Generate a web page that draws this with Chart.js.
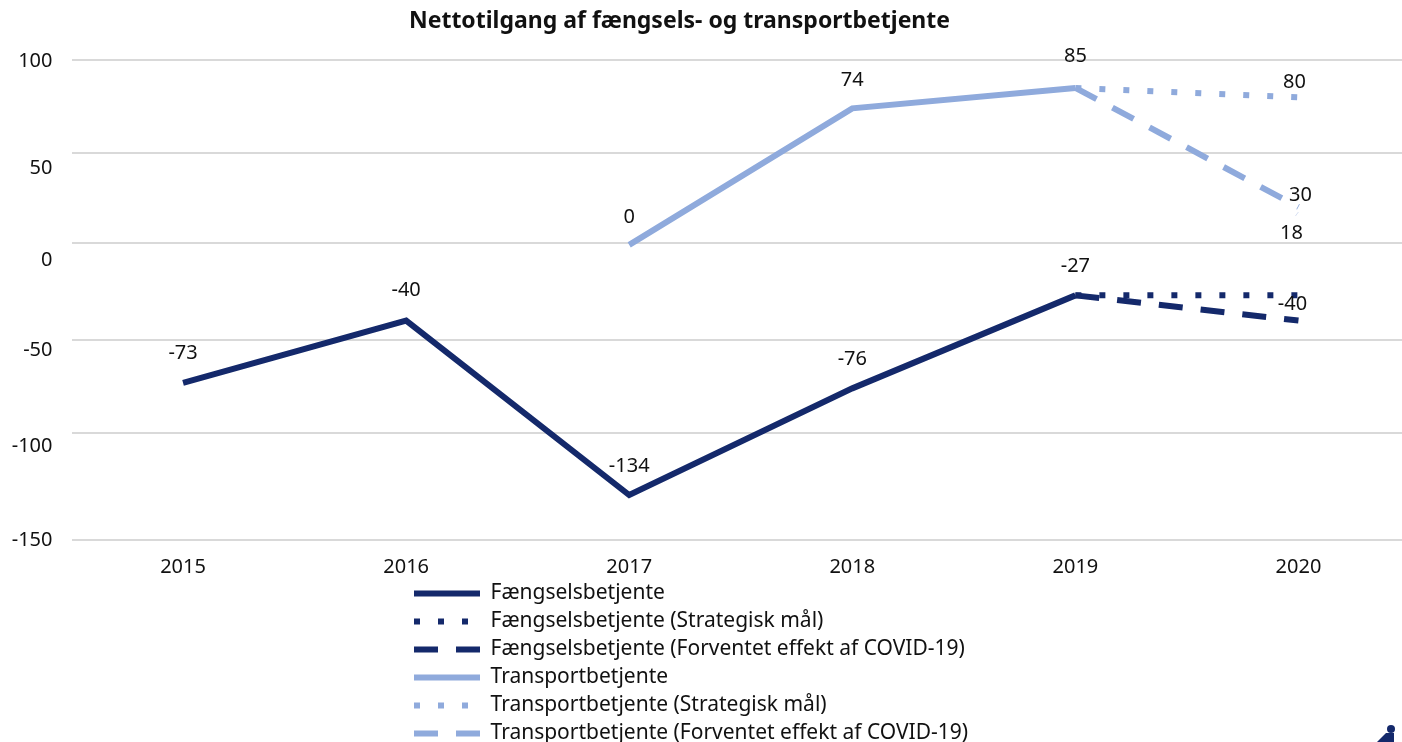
<!DOCTYPE html>
<html>
<head>
<meta charset="utf-8">
<title>Nettotilgang</title>
<script src="https://cdn.jsdelivr.net/npm/chart.js@4"></script>
<style>
  html, body { margin: 0; padding: 0; background: #fff; overflow: hidden; width: 1402px; height: 742px; }
  canvas { display: block; }
  #badge { position: absolute; left: 1374px; top: 724px; }
</style>
</head>
<body>
<canvas id="chart" width="1410" height="742"></canvas>
<svg id="badge" width="24" height="18"><circle cx="17" cy="5" r="4" fill="#14296b"/><path d="M3 18 L12 9 L20 9 L20 18 Z" fill="#14296b"/></svg>
<script>
const titleText = 'Nettotilgang af fængsels- og transportbetjente';
const years = ['2015', '2016', '2017', '2018', '2019', '2020'];

const fangsel = [-73, -40, -129, -76, -27, null];
const fangselMaal = [null, null, null, null, -27, -27];
const fangselCovid = [null, null, null, null, -27, -40];
const transport = [null, null, -1, 74, 85, null];
const transportMaal = [null, null, null, null, 85, 80];
const transportCovid = [null, null, null, null, 85, 20];

const fangselLabels = ['-73', '-40', '-134', '-76', '-27', null];
const fangselCovidLabels = [null, null, null, null, null, '-40'];
const transportLabels = [null, null, '0', '74', '85', null];
const transportMaalLabels = [null, null, null, null, null, '80'];
const transportCovidLabels = [null, null, null, null, null, '18'];
const transportExtraLabels = [null, null, null, null, null, '30'];

const seriesNames = [
    'Fængselsbetjente',
    'Fængselsbetjente (Strategisk mål)',
    'Fængselsbetjente (Forventet effekt af COVID-19)',
    'Transportbetjente',
    'Transportbetjente (Strategisk mål)',
    'Transportbetjente (Forventet effekt af COVID-19)'
];

const yTicks = [100, 50, 0, -50, -100, -150];
// where each gridline sits, as a share of the plot height (the original is uneven)
const yStops = [0, 0.1937, 0.3812, 0.5833, 0.7771, 1];
// tick labels do not sit on their gridlines in the original
const yLabelShift = { '100': 1, '50': 15, '0': 17, '-50': 10, '-100': 13, '-150': 0 };

const darkBlue = '#14296b';
const lightBlue = '#8faadc';
const fontName = "'Noto Sans', sans-serif";
const textSize = 20;
const legendSize = 21;
const dotted = [6, 18];
const dashed = [24, 18];

class UnevenScale extends Chart.LinearScale {
    getPixelForValue(value) {
        if (value === null || isNaN(value)) return NaN;
        let i = 0;
        while (i < yTicks.length - 2 && value < yTicks[i + 1]) i++;
        const t = (yTicks[i] - value) / (yTicks[i] - yTicks[i + 1]);
        return this.top + this.height * (yStops[i] + t * (yStops[i + 1] - yStops[i]));
    }
    _computeLabelItems(chartArea) {
        const items = super._computeLabelItems(chartArea);
        items.forEach((item, i) => {
            const shift = yLabelShift[String(this.ticks[i].value)] || 0;
            item.options.translation = [item.options.translation[0], item.options.translation[1] + shift];
        });
        return items;
    }
}
UnevenScale.id = 'uneven';
UnevenScale.defaults = Chart.LinearScale.defaults;
Chart.register(UnevenScale);

function makeSeries(index, data, color, dash) {
    return {
        label: seriesNames[index],
        data: data,
        borderColor: color,
        backgroundColor: color,
        borderWidth: 6,
        borderDash: dash,
        pointRadius: 0,
        tension: 0,
        spanGaps: false
    };
}

// label list, dataset index and offset from the point
const pointLabels = [
    { texts: fangselLabels, dataset: 0, shift: i => [0, i === 1 ? -30 : -29] },
    { texts: fangselCovidLabels, dataset: 2, shift: () => [-6, -16] },
    { texts: transportLabels, dataset: 3, shift: i => [0, i === 4 ? -32 : -28] },
    { texts: transportMaalLabels, dataset: 4, shift: () => [-4, -15] },
    { texts: transportCovidLabels, dataset: 5, shift: () => [-7, 26] },
    { texts: transportExtraLabels, dataset: 5, shift: () => [2, -12] }
];

const pointLabelPlugin = {
    id: 'pointLabels',
    afterDatasetsDraw(chart) {
        const ctx = chart.ctx;
        ctx.save();
        ctx.font = textSize + 'px ' + fontName;
        ctx.fillStyle = '#111';
        ctx.textAlign = 'center';
        ctx.textBaseline = 'middle';
        pointLabels.forEach(group => {
            const points = chart.getDatasetMeta(group.dataset).data;
            group.texts.forEach((text, i) => {
                if (text === null) return;
                const [dx, dy] = group.shift(i);
                ctx.fillText(text, points[i].x + dx, points[i].y + dy);
            });
        });
        // thin leader line next to the 30 label
        const end = chart.getDatasetMeta(5).data[5];
        ctx.strokeStyle = '#d6dff2';
        ctx.lineWidth = 1;
        ctx.beginPath();
        ctx.moveTo(end.x, end.y + 5);
        ctx.lineTo(end.x - 3, end.y + 9);
        ctx.stroke();
        ctx.restore();
    }
};

const placementPlugin = {
    id: 'placement',
    afterLayout(chart) {
        chart.titleBlock.left = 0;
        chart.titleBlock.right = 1359;
        chart.legend.left = 407;
        chart.legend.right = 1402;
        chart.legend.top = 576;
        chart.legend.bottom = 800;
    }
};

new Chart(document.getElementById('chart'), {
    type: 'line',
    data: {
        labels: years,
        datasets: [
            makeSeries(0, fangsel, darkBlue, []),
            makeSeries(1, fangselMaal, darkBlue, dotted),
            makeSeries(2, fangselCovid, darkBlue, dashed),
            makeSeries(3, transport, lightBlue, []),
            makeSeries(4, transportMaal, lightBlue, dotted),
            makeSeries(5, transportCovid, lightBlue, dashed)
        ]
    },
    options: {
        responsive: false,
        animation: false,
        layout: { padding: 0 },
        plugins: {
            title: {
                display: true,
                text: titleText,
                color: '#111',
                font: { family: fontName, size: 23, weight: 'bold', lineHeight: 1.2 },
                padding: { top: 8, bottom: 24.4 }
            },
            legend: {
                position: 'chartArea',
                align: 'start',
                onClick: null,
                labels: {
                    usePointStyle: true,
                    pointStyleWidth: 66,
                    boxHeight: 6,
                    color: '#111',
                    padding: 7,
                    font: { family: fontName, size: legendSize },
                    generateLabels: chart => chart.data.datasets.map((d, i) => ({
                        text: d.label,
                        fillStyle: d.borderColor,
                        strokeStyle: d.borderColor,
                        fontColor: '#111',
                        lineWidth: d.borderWidth,
                        lineDash: d.borderDash,
                        pointStyle: 'line',
                        datasetIndex: i
                    }))
                }
            },
            tooltip: { enabled: false }
        },
        scales: {
            x: {
                offset: true,
                afterFit: scale => { scale.height = 202; },
                grid: { display: false },
                border: { display: false },
                ticks: { color: '#111', padding: 7, maxRotation: 0, font: { family: fontName, size: textSize } }
            },
            y: {
                type: 'uneven',
                min: -150,
                max: 100,
                afterFit: scale => { scale.width = 71.5; },
                grid: { color: '#d9d9d9', lineWidth: 2, drawTicks: false },
                border: { display: false },
                ticks: { color: '#111', stepSize: 50, autoSkip: false, padding: 19, font: { family: fontName, size: textSize } }
            }
        }
    },
    plugins: [pointLabelPlugin, placementPlugin]
});
</script>
</body>
</html>
